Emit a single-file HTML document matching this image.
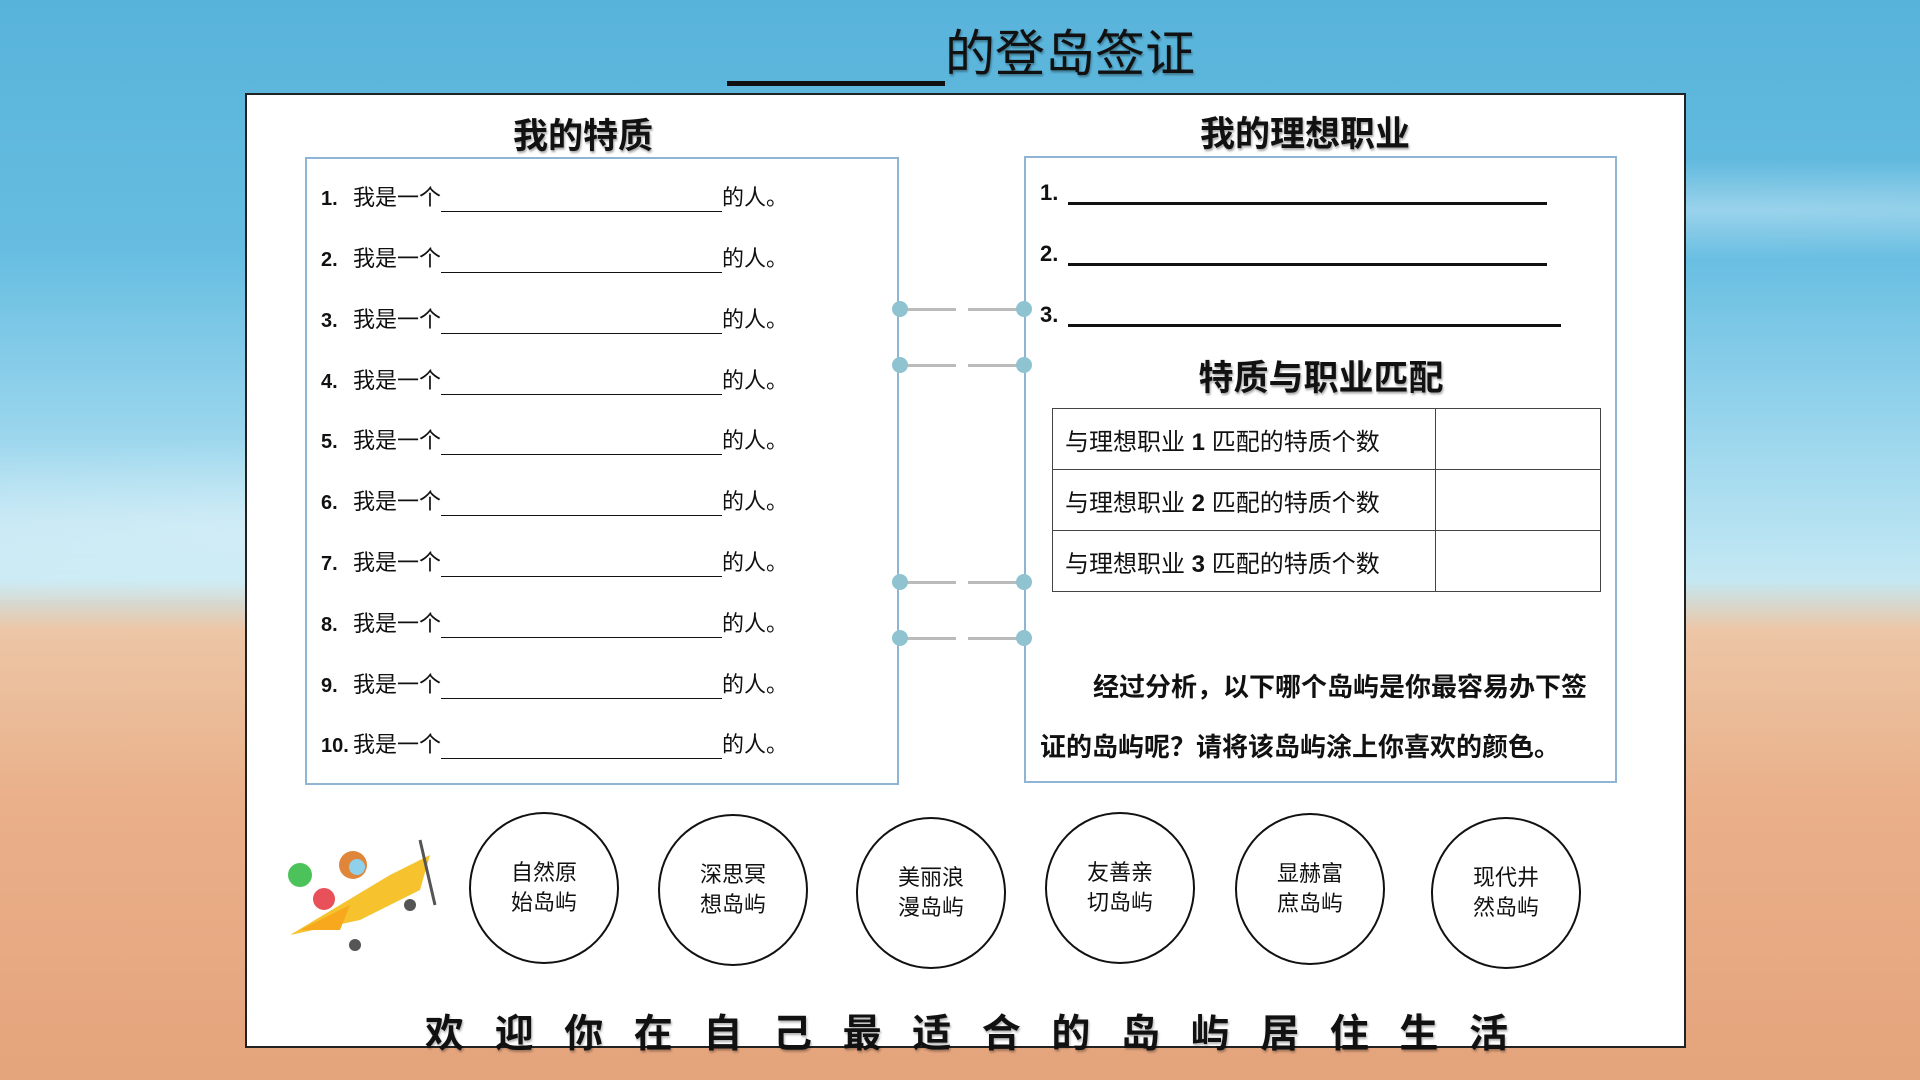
<!DOCTYPE html>
<html><head><meta charset="utf-8"><style>
*{margin:0;padding:0;box-sizing:border-box}
body{width:1920px;height:1080px;overflow:hidden;position:relative;font-family:"Liberation Sans","Noto Sans CJK SC",sans-serif;
background:linear-gradient(180deg,#58b3da 0px,#66bde1 250px,#9fd8ee 450px,#c4e8f3 580px,#ecc6a6 630px,#eab08a 800px,#e4a47c 1080px);}
.abs{position:absolute}
.panel{left:245px;top:93px;width:1441px;height:955px;background:#fff;border:2px solid #222}
.h{position:absolute;font-weight:bold;color:#111;text-shadow:1px 2px 2px rgba(0,0,0,.35);transform:translateX(-50%);white-space:nowrap}
.box{position:absolute;border:2px solid #8fb4d4}
.row{position:absolute;left:321px;font-size:22px;color:#111;white-space:nowrap}
.row b{display:inline-block;width:32px;font-size:20px}
.row .u{display:inline-block;width:281px;border-bottom:1.5px solid #111;height:24px;vertical-align:bottom}
.job{position:absolute;left:1040px;font-size:22px;font-weight:bold;color:#111}
.jl{position:absolute;left:1068px;height:3px;background:#111}
table{position:absolute;left:1052px;top:408px;border-collapse:collapse}
td{border:1.5px solid #444;height:61px;font-size:24px;color:#111;padding-left:12px}
.dot{position:absolute;width:16px;height:16px;border-radius:50%;background:#8ec3cf}
.cl{position:absolute;height:3px;background:linear-gradient(90deg,#bbb 0 45%,transparent 45% 55%,#bbb 55% 100%)}
.c{position:absolute;width:150px;height:152px;border:2px solid #111;border-radius:50%;display:flex;align-items:center;justify-content:center;text-align:center;font-size:22px;line-height:30px;color:#111}
</style></head><body>
<div class="abs" style="left:0;top:150px;width:1920px;height:120px;background:radial-gradient(ellipse at 90% 50%,rgba(255,255,255,.35),transparent 60%)"></div>
<div class="abs" style="left:0;top:420px;width:1920px;height:180px;background:radial-gradient(ellipse at 20% 60%,rgba(255,255,255,.4),transparent 60%)"></div>
<div class="h" style="left:961px;top:14px;font-size:50px;font-weight:normal"><span style="display:inline-block;width:218px;border-bottom:5px solid #111;height:50px;vertical-align:bottom"></span>的登岛签证</div>
<div class="abs panel"></div>
<div class="h" style="left:583px;top:108px;font-size:35px">我的特质</div>
<div class="h" style="left:1305px;top:106px;font-size:35px">我的理想职业</div>
<div class="box" style="left:305px;top:157px;width:594px;height:628px"></div>
<div class="box" style="left:1024px;top:156px;width:593px;height:627px"></div>
<div class="row" style="top:180px"><b>1.</b>我是一个<span class="u"></span>的人。</div>
<div class="row" style="top:241px"><b>2.</b>我是一个<span class="u"></span>的人。</div>
<div class="row" style="top:302px"><b>3.</b>我是一个<span class="u"></span>的人。</div>
<div class="row" style="top:363px"><b>4.</b>我是一个<span class="u"></span>的人。</div>
<div class="row" style="top:423px"><b>5.</b>我是一个<span class="u"></span>的人。</div>
<div class="row" style="top:484px"><b>6.</b>我是一个<span class="u"></span>的人。</div>
<div class="row" style="top:545px"><b>7.</b>我是一个<span class="u"></span>的人。</div>
<div class="row" style="top:606px"><b>8.</b>我是一个<span class="u"></span>的人。</div>
<div class="row" style="top:667px"><b>9.</b>我是一个<span class="u"></span>的人。</div>
<div class="row" style="top:727px"><b>10.</b>我是一个<span class="u"></span>的人。</div>
<div class="job" style="top:180px">1.</div><div class="jl" style="top:202px;width:479px"></div>
<div class="job" style="top:241px">2.</div><div class="jl" style="top:263px;width:479px"></div>
<div class="job" style="top:302px">3.</div><div class="jl" style="top:324px;width:493px"></div>
<div class="h" style="left:1321px;top:350px;font-size:35px">特质与职业匹配</div>
<table><tr><td style="width:383px">与理想职业 <b>1</b> 匹配的特质个数</td><td style="width:165px"></td></tr>
<tr><td>与理想职业 <b>2</b> 匹配的特质个数</td><td></td></tr>
<tr><td>与理想职业 <b>3</b> 匹配的特质个数</td><td></td></tr></table>
<div class="abs" style="left:1093px;top:667px;font-size:26px;font-weight:bold;color:#111;white-space:nowrap">经过分析，以下哪个岛屿是你最容易办下签</div>
<div class="abs" style="left:1040px;top:727px;font-size:26px;font-weight:bold;color:#111;white-space:nowrap">证的岛屿呢？请将该岛屿涂上你喜欢的颜色。</div>
<div class="cl" style="left:900px;top:308px;width:124px"></div><div class="dot" style="left:892px;top:301px"></div><div class="dot" style="left:1016px;top:301px"></div>
<div class="cl" style="left:900px;top:364px;width:124px"></div><div class="dot" style="left:892px;top:357px"></div><div class="dot" style="left:1016px;top:357px"></div>
<div class="cl" style="left:900px;top:581px;width:124px"></div><div class="dot" style="left:892px;top:574px"></div><div class="dot" style="left:1016px;top:574px"></div>
<div class="cl" style="left:900px;top:637px;width:124px"></div><div class="dot" style="left:892px;top:630px"></div><div class="dot" style="left:1016px;top:630px"></div>
<div class="c" style="left:469px;top:812px">自然原<br>始岛屿</div>
<div class="c" style="left:658px;top:814px">深思冥<br>想岛屿</div>
<div class="c" style="left:856px;top:817px">美丽浪<br>漫岛屿</div>
<div class="c" style="left:1045px;top:812px">友善亲<br>切岛屿</div>
<div class="c" style="left:1235px;top:813px">显赫富<br>庶岛屿</div>
<div class="c" style="left:1431px;top:817px">现代井<br>然岛屿</div>
<svg class="abs" style="left:280px;top:835px" width="165" height="120" viewBox="0 0 165 120">
<circle cx="20" cy="40" r="12" fill="#4cc25a"/><circle cx="44" cy="64" r="11" fill="#e8505a"/>
<path d="M10 100 L60 70 L110 40 L150 20 L140 55 L80 85 Z" fill="#f6c22e"/>
<path d="M20 95 L70 70 L60 95 Z" fill="#f8a81c"/>
<circle cx="73" cy="30" r="14" fill="#e0863a"/><circle cx="77" cy="32" r="8" fill="#8fd0ea"/>
<line x1="140" y1="5" x2="155" y2="70" stroke="#555" stroke-width="3"/>
<circle cx="75" cy="110" r="6" fill="#555"/><circle cx="130" cy="70" r="6" fill="#555"/>
</svg>
<div class="abs" style="left:425px;top:1003px;font-size:39px;font-weight:bold;color:#111;letter-spacing:30.6px;white-space:nowrap;text-shadow:1px 2px 2px rgba(0,0,0,.3)">欢迎你在自己最适合的岛屿居住生活</div>
</body></html>
